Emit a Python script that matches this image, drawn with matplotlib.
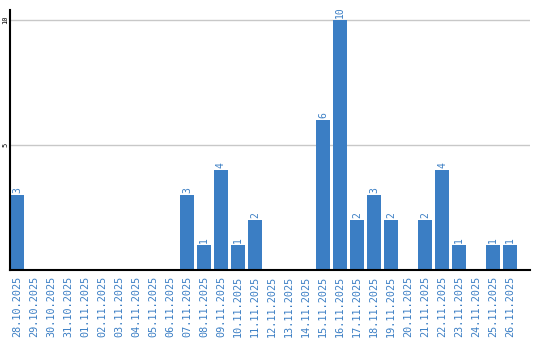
import matplotlib
matplotlib.use("Agg")
from matplotlib import pyplot as plt
import numpy as np

# daily counts 28.10.2025 - 26.11.2025
dates = ["28.10.2025", "29.10.2025", "30.10.2025", "31.10.2025", "01.11.2025",
         "02.11.2025", "03.11.2025", "04.11.2025", "05.11.2025", "06.11.2025",
         "07.11.2025", "08.11.2025", "09.11.2025", "10.11.2025", "11.11.2025",
         "12.11.2025", "13.11.2025", "14.11.2025", "15.11.2025", "16.11.2025",
         "17.11.2025", "18.11.2025", "19.11.2025", "20.11.2025", "21.11.2025",
         "22.11.2025", "23.11.2025", "24.11.2025", "25.11.2025", "26.11.2025"]
counts = [3, 0, 0, 0, 0, 0, 0, 0, 0, 0,
          3, 1, 4, 1, 2, 0, 0, 0, 6, 10,
          2, 3, 2, 0, 2, 4, 1, 0, 1, 1]
y_ticks = [5, 10]

bar_color = "#3b7ec4"
mono = "DejaVu Sans Mono"

fig = plt.figure(figsize=(5.4, 3.4), dpi=100)
ax = fig.add_axes([10 / 540, 70 / 340, 520 / 540, 260 / 340])

x = np.arange(len(dates))
ax.bar(x, counts, width=14 / 17, align="edge", color=bar_color, zorder=2)

# value labels above non-empty bars
for xi, v in zip(x, counts):
    if v > 0:
        ax.text(xi + 7 / 17, v + 0.08, str(v), rotation=90, ha="center", va="bottom",
                color=bar_color, fontsize=7, family=mono)

ax.set_xlim(0, 520 / 17)
ax.set_ylim(0, 10.4)
ax.set_xticks(x + 7 / 17)
ax.set_xticklabels(dates, rotation=90, color=bar_color, fontsize=7.3, family=mono)
ax.set_yticks(y_ticks)
ax.set_yticklabels([str(t) for t in y_ticks], rotation=90, va="center", fontsize=5, family=mono)
ax.tick_params(axis="x", length=0, pad=4)
ax.tick_params(axis="y", length=0, pad=1.2)

ax.grid(axis="y", color="#c8c8c8", linewidth=1, zorder=0)
for s in ["top", "right"]:
    ax.spines[s].set_visible(False)
ax.spines["left"].set_linewidth(1.5)
ax.spines["bottom"].set_linewidth(1.5)

fig.savefig("out.png", dpi=100)
